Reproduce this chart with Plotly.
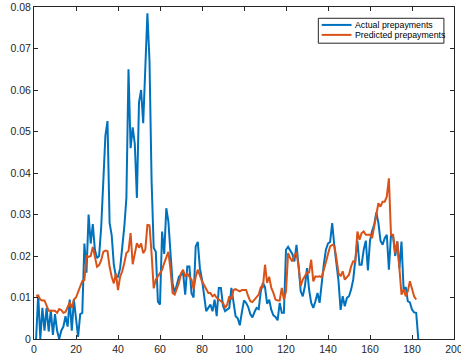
import plotly.graph_objects as go

# Monthly prepayment rates: observed vs. model prediction
actual = [
    0.0, 0.0107, 0.0, 0.0075, 0.002, 0.0075, 0.0018, 0.007, 0.001, 0.006,
    0.002, 0.0, 0.002, 0.003, 0.0055, 0.003, 0.0095, 0.002, 0.0095, 0.005,
    0.0005, 0.006, 0.0063, 0.023, 0.016, 0.030, 0.023, 0.0277, 0.0215, 0.0195,
    0.020, 0.027, 0.040, 0.049, 0.0525, 0.028, 0.025, 0.018, 0.015, 0.015,
    0.017, 0.022, 0.027, 0.034, 0.065, 0.046, 0.051, 0.047, 0.034, 0.057,
    0.060, 0.052, 0.065, 0.0785, 0.067, 0.038, 0.022, 0.021, 0.009, 0.0083,
    0.0259, 0.0205, 0.0315, 0.0283, 0.0207, 0.0134, 0.0111, 0.0134, 0.015, 0.0155,
    0.016, 0.0107, 0.0175, 0.0175, 0.011, 0.010, 0.0223, 0.0234, 0.017, 0.0143,
    0.0103, 0.0067, 0.0075, 0.0083, 0.0067, 0.0095, 0.0055, 0.0123, 0.0123, 0.008,
    0.0067, 0.007, 0.0075, 0.0123, 0.009, 0.0055, 0.005, 0.0033, 0.0065, 0.0093,
    0.0087, 0.0077, 0.006, 0.0052, 0.0065, 0.0075, 0.0072, 0.0115, 0.0135, 0.0125,
    0.0085, 0.0095, 0.007, 0.0057, 0.0053, 0.0045, 0.0087, 0.0063, 0.0063, 0.0215,
    0.0222, 0.0215, 0.0205, 0.0187, 0.0227, 0.0175, 0.0115, 0.0103, 0.0127, 0.0171,
    0.0119, 0.0087, 0.0075, 0.0091, 0.0111, 0.0087, 0.0143, 0.018, 0.0215, 0.023,
    0.0234, 0.0279, 0.0225, 0.0175, 0.014, 0.007, 0.0103, 0.0079, 0.0099, 0.0103,
    0.0119, 0.0143, 0.019, 0.0237, 0.0179, 0.0179, 0.0215, 0.0237, 0.0165, 0.0237,
    0.026, 0.0275, 0.0305, 0.028, 0.0237, 0.0227, 0.0243, 0.0251, 0.0167, 0.0251,
    0.0247, 0.020, 0.0235, 0.017, 0.0235, 0.012, 0.0125, 0.0091, 0.0088, 0.0071,
    0.0064, 0.0063, 0.0,
]

predicted = [
    0.0104, 0.0104, 0.0095, 0.0093, 0.0093, 0.008, 0.0068, 0.0068, 0.0068, 0.0068,
    0.0063, 0.0072, 0.007, 0.0063, 0.0065, 0.0075, 0.0088, 0.0075, 0.0095, 0.010,
    0.0113, 0.0125, 0.014, 0.0142, 0.020, 0.0198, 0.020, 0.0222, 0.0195, 0.0174,
    0.0178, 0.019, 0.021, 0.0213, 0.0212, 0.0174, 0.015, 0.0134, 0.0158, 0.0118,
    0.015, 0.0163, 0.0183, 0.0207, 0.0212, 0.0255, 0.018, 0.0207, 0.0231, 0.022,
    0.023, 0.0207, 0.0215, 0.0275, 0.0274, 0.0205, 0.0122, 0.0143, 0.015, 0.0158,
    0.0167, 0.0183, 0.0199, 0.021, 0.0167, 0.0111, 0.0107, 0.012, 0.0135, 0.0158,
    0.0167, 0.015, 0.0158, 0.015, 0.0143, 0.012, 0.015, 0.0167, 0.015, 0.0139,
    0.013, 0.0122, 0.0111, 0.0111, 0.0103, 0.0107, 0.0099, 0.0095, 0.0091, 0.0087,
    0.0075, 0.0083, 0.0103, 0.0095, 0.0118, 0.012, 0.0117, 0.0115, 0.0118, 0.0118,
    0.0118, 0.0103, 0.0091, 0.0089, 0.0095, 0.0103, 0.0107, 0.0125, 0.0125, 0.0179,
    0.0135, 0.015, 0.0123, 0.0111, 0.0095, 0.0093, 0.0093, 0.0123, 0.0095, 0.0115,
    0.0207, 0.0195, 0.0187, 0.0203, 0.0207, 0.0175, 0.0128, 0.0143, 0.0151, 0.016,
    0.016, 0.0191, 0.0139, 0.0151, 0.015, 0.0151, 0.0149, 0.0165, 0.0185, 0.0205,
    0.0223, 0.0227, 0.0225, 0.0195, 0.0159, 0.0151, 0.0163, 0.0143, 0.015, 0.0155,
    0.0175, 0.0187, 0.0185, 0.0259, 0.0239, 0.0255, 0.0259, 0.0251, 0.0251, 0.0251,
    0.0243, 0.0271, 0.030, 0.0327, 0.0319, 0.0331, 0.0331, 0.0343, 0.0387, 0.0251,
    0.0251, 0.0207, 0.0235, 0.0175, 0.0107, 0.012, 0.0103, 0.0115, 0.0139, 0.0121,
    0.0103, 0.0095,
]

x_ticks = [0, 20, 40, 60, 80, 100, 120, 140, 160, 180, 200]
y_ticks = [0, 0.01, 0.02, 0.03, 0.04, 0.05, 0.06, 0.07, 0.08]
y_labels = ["0", "0.01", "0.02", "0.03", "0.04", "0.05", "0.06", "0.07", "0.08"]

series_names = ["Actual prepayments", "Predicted prepayments"]

months_actual = list(range(1, len(actual) + 1))
months_pred = list(range(1, len(predicted) + 1))

BLUE = "#0072BD"
ORANGE = "#D95319"
AXIS = "#262626"
FONT = "Liberation Sans, Arial, sans-serif"
colors = [BLUE, ORANGE]

fig = go.Figure()
fig.add_trace(go.Scatter(x=months_actual, y=actual, mode="lines",
                         name=series_names[0],
                         line=dict(color=BLUE, width=2)))
fig.add_trace(go.Scatter(x=months_pred, y=predicted, mode="lines",
                         name=series_names[1],
                         line=dict(color=ORANGE, width=2)))

axis_common = dict(showgrid=False, zeroline=False, showline=True,
                   linecolor=AXIS, linewidth=1, mirror="ticks",
                   ticks="inside", ticklen=4, tickcolor=AXIS,
                   automargin=False,
                   tickfont=dict(family=FONT, size=10.5, color=AXIS))

fig.update_xaxes(range=[0, 200], tickvals=x_ticks,
                 ticklabeloverflow="allow", **axis_common)
fig.update_yaxes(range=[0, 0.08], tickvals=y_ticks, ticktext=y_labels,
                 **axis_common)

# Compact boxed legend in the upper-right corner of the axes
box_x0, box_x1 = 0.677, 0.976
box_y0, box_y1 = 0.891, 0.966
row_y = [0.946, 0.916]
sample_x0, sample_x1 = 0.685, 0.756
text_x = 0.760

shapes = [dict(type="rect", xref="paper", yref="paper",
               x0=box_x0, x1=box_x1, y0=box_y0, y1=box_y1,
               line=dict(color=AXIS, width=1), fillcolor="white", layer="above")]
annotations = []
for name, color, ry in zip(series_names, colors, row_y):
    shapes.append(dict(type="line", xref="paper", yref="paper",
                       x0=sample_x0, x1=sample_x1, y0=ry, y1=ry,
                       line=dict(color=color, width=2), layer="above"))
    annotations.append(dict(text=name, xref="paper", yref="paper",
                            x=text_x, y=ry, xanchor="left", yanchor="middle",
                            showarrow=False,
                            font=dict(family=FONT, size=8.8, color="#000000")))

fig.update_layout(
    width=461, height=360,
    margin=dict(l=34, r=7, t=7, b=21, autoexpand=False),
    paper_bgcolor="white", plot_bgcolor="white",
    font=dict(family=FONT, size=10, color=AXIS),
    showlegend=False,
    shapes=shapes,
    annotations=annotations,
)

fig.write_html("out.html")
